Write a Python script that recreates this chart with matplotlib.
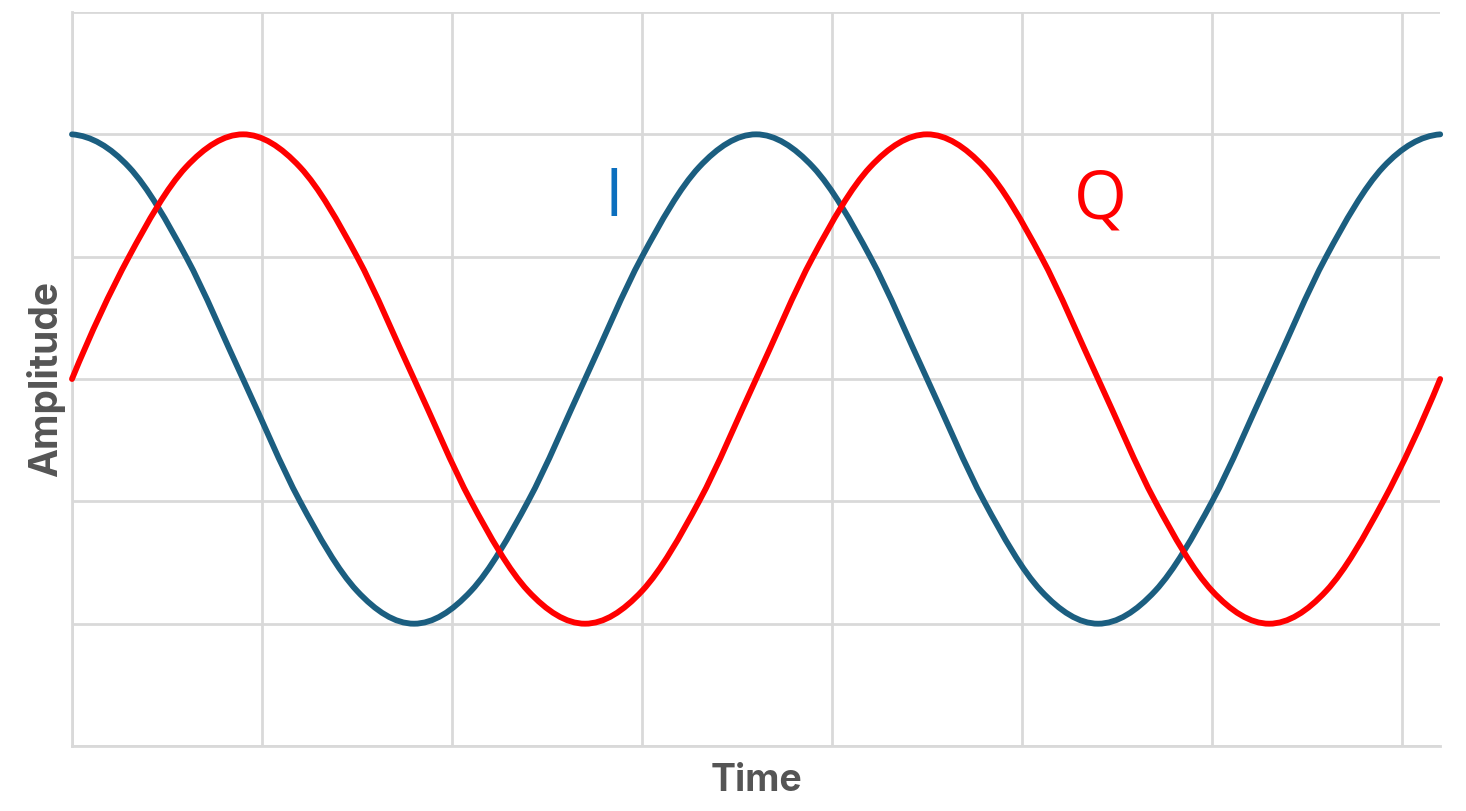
import matplotlib
matplotlib.use('Agg')
import matplotlib.pyplot as plt
from matplotlib.path import Path
from matplotlib.patches import PathPatch
import numpy as np

# data (phase in degrees, amplitude)
phase = [0, 30, 60, 90, 120, 150, 180, 210, 240, 270, 300, 330, 360,
         390, 420, 450, 480, 510, 540, 570, 600, 630, 660, 690, 720]
i_vals = [1, 0.866, 0.5, 0, -0.5, -0.866, -1, -0.866, -0.5, 0, 0.5, 0.866, 1,
          0.866, 0.5, 0, -0.5, -0.866, -1, -0.866, -0.5, 0, 0.5, 0.866, 1]
q_vals = [0, 0.5, 0.866, 1, 0.866, 0.5, 0, -0.5, -0.866, -1, -0.866, -0.5, 0,
          0.5, 0.866, 1, 0.866, 0.5, 0, -0.5, -0.866, -1, -0.866, -0.5, 0]

x_ticks = [0, 100, 200, 300, 400, 500, 600, 700]
y_ticks = [-1.5, -1, -0.5, 0, 0.5, 1, 1.5]


def smooth_path(xs, ys):
    # catmull-rom through the points, drawn as cubic bezier segments
    pts = np.column_stack([xs, ys]).astype(float)
    n = len(pts)
    # phantom end points so the end tangents follow a parabola fit
    first = 3 * pts[0] - 3 * pts[1] + pts[2]
    last = 3 * pts[-1] - 3 * pts[-2] + pts[-3]
    ext = np.vstack([first, pts, last])
    verts = [pts[0]]
    codes = [Path.MOVETO]
    for k in range(1, n):
        p0, p1, p2, p3 = ext[k - 1], ext[k], ext[k + 1], ext[k + 2]
        c1 = p1 + (p2 - p0) / 6
        c2 = p2 - (p3 - p1) / 6
        verts += [c1, c2, p2]
        codes += [Path.CURVE4] * 3
    return Path(verts, codes)


fig = plt.figure(figsize=(14.66, 8.11), dpi=100)
ax = fig.add_axes([0.0491, 0.0801, 0.9333, 0.9051])

grid_col = '#d9d9d9'
ax.set_xlim(0, 720)
ax.set_ylim(-1.5, 1.5)
ax.set_xticks(x_ticks)
ax.set_yticks(y_ticks)
ax.tick_params(length=0, labelbottom=False, labelleft=False)
ax.grid(True, color=grid_col, lw=2.0)
ax.set_axisbelow(True)
for s in ['top', 'right']:
    ax.spines[s].set_visible(False)
for s in ['left', 'bottom']:
    ax.spines[s].set_color(grid_col)
    ax.spines[s].set_linewidth(2.0)

ax.add_patch(PathPatch(smooth_path(phase, i_vals), fill=False,
                       edgecolor='#1b5e80', lw=4.2, capstyle='round',
                       joinstyle='round', zorder=3, clip_on=False))
ax.add_patch(PathPatch(smooth_path(phase, q_vals), fill=False,
                       edgecolor='#ff0000', lw=4.2, capstyle='round',
                       joinstyle='round', zorder=4, clip_on=False))

ax.text(285, 0.74, 'I', color='#0b6fbe', fontsize=48, family='Open Sans',
        ha='center', va='center')
ax.text(541, 0.73, 'Q', color='#ff0000', fontsize=49, family='Open Sans',
        ha='center', va='center')

ax.set_xlabel('Time', fontsize=27, fontweight='bold', color='#555555',
              family='Inter', labelpad=12)
ax.set_ylabel('Amplitude', fontsize=28, fontweight='bold', color='#555555',
              family='Inter', labelpad=5)

fig.savefig('out.png', dpi=100)
